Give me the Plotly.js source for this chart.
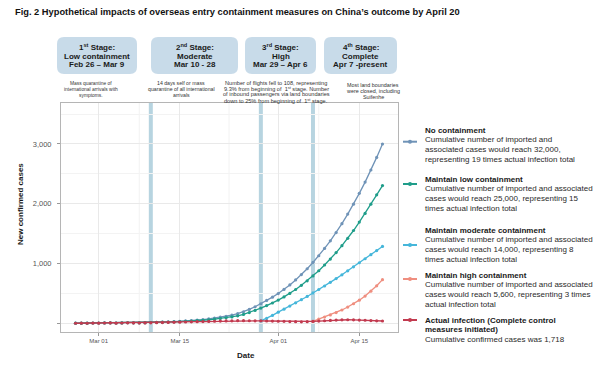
<!DOCTYPE html>
<html><head><meta charset="utf-8">
<script src="https://cdn.plot.ly/plotly-3.0.1.min.js"></script>
<style>html,body{margin:0;padding:0;background:#fff}#chart{width:600px;height:368px}</style>
</head><body><div id="chart"></div>
<script>
// ---------- data ----------
const startDate = [2020, 1, 26]; // Feb 26, 2020 (daily points through Apr 19)
const noContainment = [5,6,5,8,8,10,11,8,10,13,12,12,14,17,
  20,24,28,33,38,44,
  50,58,66,78,92,106,120,140,165,195,235,280,
  330,385,440,500,570,645,728,818,915,1020,
  1132,1255,1382,1520,1669,1828,1995,2175,2363,2565,2776,3000];
const lowContainment = [5,6,5,8,8,10,11,8,10,13,12,12,14,17,
  19,22,25,29,33,37,
  42,48,54,63,73,84,95,110,128,152,183,218,
  258,300,343,392,445,503,568,638,714,795,
  882,978,1077,1185,1300,1423,1554,1695,1840,1995,2150,2305];
const moderateContainment = [null,null,null,null,null,null,null,null,null,null,null,null,null,null,
  null,null,null,null,null,null,
  null,null,null,null,null,null,null,null,null,null,null,null,
  44,85,135,189,240,292,345,398,452,511,
  568,627,688,750,814,880,948,1015,1082,1150,1218,1288];
const highContainment = [null,null,null,null,null,null,null,null,null,null,null,null,null,null,
  null,null,null,null,null,null,
  null,null,null,null,null,null,null,null,null,null,null,null,
  null,null,null,null,null,null,null,null,null,
  36,75,108,143,182,226,275,330,390,458,540,630,733];
const actualInfection = [4,5,4,7,6,8,9,6,8,11,9,8,10,12,
  14,16,18,20,22,25,28,30,33,35,38,
  40,43,45,47,48,46,45,
  44,42,40,38,36,33,30,28,30,
  34,40,46,52,57,61,63,62,58,54,49,45,42];

const seriesNames = ['No containment','Maintain low containment','Maintain moderate containment','Maintain high containment','Actual infection'];
const seriesColors = ['#6f93b7','#1f9d8a','#45b6da','#ef8e7f','#c23a4f'];

const stageLines = ['2020-03-10','2020-03-29','2020-04-07'];
const xTickVals = ['2020-03-01','2020-03-15','2020-04-01','2020-04-15'];
const xTickText = ['Mar 01','Mar 15','Apr 01','Apr 15'];
const xMinorVals = ['2020-03-08','2020-03-23 12:00','2020-04-08'];
const yTickVals = [0,1000,2000,3000];
const yTickText = ['','1,000','2,000','3,000'];

const stageTitles = ['1<sup>st</sup> Stage:','2<sup>nd</sup> Stage:','3<sup>rd</sup> Stage:','4<sup>th</sup> Stage:'];
const stageNames = ['Low containment','Moderate','High','Complete'];
const stagePeriods = ['Feb 26 – Mar 9','Mar 10 - 28','Mar 29 – Apr 6','Apr 7 -present'];
const stageNotes = [
  ['Mass quarantine of','international arrivals with','symptoms.'],
  ['14 days self or mass','quarantine of all international','arrivals'],
  ['Number of flights fell to 108, representing','9.3% from beginning of  1<sup>st</sup> stage. Number','of inbound passengers via land boundaries','down to 25% from beginning of  1<sup>st</sup> stage.'],
  ['Most land boundaries','were closed, including','Suifenhe']
];
const legendTitles = [['No containment'],['Maintain low containment'],['Maintain moderate containment'],['Maintain high containment'],['Actual infection (Complete control','measures initiated)']];
const legendNotes = [
  ['Cumulative number of imported and','associated cases would reach 32,000,','representing 19 times actual infection total'],
  ['Cumulative number of imported and associated','cases would reach 25,000, representing 15','times actual infection total'],
  ['Cumulative number of imported and associated','cases would reach 14,000, representing 8','times actual infection total'],
  ['Cumulative number of imported and associated','cases would reach 5,600, representing 3 times','actual infection total'],
  ['Cumulative confirmed cases was 1,718']
];

// ---------- layout helpers ----------
const L=61,R=398,T=103,B=332;
const W=R-L,H=B-T;
const px=x=>(x-L)/W, py=y=>(B-y)/H;
const FONT='Liberation Sans, Arial, Helvetica, sans-serif';

const dates = noContainment.map((_,i)=>new Date(Date.UTC(startDate[0],startDate[1],startDate[2]+i)).toISOString().slice(0,10));

const annotations=[];
function txt(x,y,text,size,bold,xanchor,color,extra){
  annotations.push(Object.assign({xref:'paper',yref:'paper',x:px(x),y:py(y),
    text: bold?'<b>'+text+'</b>':text, showarrow:false, xanchor:xanchor||'center', yanchor:'middle',
    borderpad:0, font:{family:FONT,size:size,color:color||'#1a1a1a'}}, extra||{}));
}
const shapes=[];
function roundedRect(x0,y0,x1,y1,r){
  const p=(x,y)=>px(x)+','+py(y);
  return 'M'+p(x0+r,y0)+' L'+p(x1-r,y0)+' Q'+p(x1,y0)+' '+p(x1,y0+r)+
    ' L'+p(x1,y1-r)+' Q'+p(x1,y1)+' '+p(x1-r,y1)+' L'+p(x0+r,y1)+
    ' Q'+p(x0,y1)+' '+p(x0,y1-r)+' L'+p(x0,y0+r)+' Q'+p(x0,y0)+' '+p(x0+r,y0)+' Z';
}

// title
txt(14,12,'Fig. 2 Hypothetical impacts of overseas entry containment measures on China’s outcome by April 20',9.3,true,'left','#111');

// stage boxes
const boxX=[[57,137],[151,238],[245,316],[324,397]];
const noteCenters=[90.5,181,276,373];
const noteTop=[84,83,82.7,85];
const noteSize=[4.9,5.2,5.6,5.4];
boxX.forEach((bx,i)=>{
  shapes.push({type:'path',xref:'paper',yref:'paper',path:roundedRect(bx[0],37,bx[1],74,7),
    fillcolor:'#c8dbe9',line:{width:0},layer:'below'});
  const cx=(bx[0]+bx[1])/2;
  txt(cx,47,stageTitles[i],8,true);
  txt(cx,56,stageNames[i],8,true);
  txt(cx,64.5,stagePeriods[i],8,true);
  stageNotes[i].forEach((ln,j)=>txt(noteCenters[i],noteTop[i]+j*5.8,ln,noteSize[i],false,'center','#333'));
});

// stage lines
stageLines.forEach(d=>shapes.push({type:'line',xref:'x',yref:'paper',x0:d,x1:d,y0:0,y1:1,
  line:{color:'rgba(170,205,218,0.85)',width:4},layer:'below'}));
xMinorVals.forEach(d=>shapes.push({type:'line',xref:'x',yref:'paper',x0:d,x1:d,y0:0,y1:1,
  line:{color:'#f2f2f2',width:1},layer:'below'}));

// legend (custom)
const legTitleY=[130,179,230,275,320];
const legSymY=[141.7,184,245,279,320];
legendTitles.forEach((tl,i)=>{
  let y=legTitleY[i];
  tl.forEach(t=>{txt(424,y,t,8,true,'left','#1a1a1a');y+=9.8;});
  legendNotes[i].forEach(t=>{txt(424,y,t,8,false,'left','#2a2a2a');y+=9.8;});
  shapes.push({type:'line',xref:'paper',yref:'paper',x0:px(403),x1:px(417),y0:py(legSymY[i]),y1:py(legSymY[i]),
    line:{color:seriesColors[i],width:2}});
  shapes.push({type:'circle',xref:'paper',yref:'paper',x0:px(408),x1:px(412),y0:py(legSymY[i]+2),y1:py(legSymY[i]-2),
    fillcolor:seriesColors[i],line:{width:0}});
});

// axis titles
txt(246,355,'Date',8,true);
txt(20,204,'New confirmed cases',8,true,'center','#1a1a1a',{textangle:-90});

// ---------- traces ----------
const allSeries=[noContainment,lowContainment,moderateContainment,highContainment,actualInfection];
const traces=allSeries.map((ys,i)=>({
  type:'scatter',mode:'lines+markers',x:dates,y:ys,name:seriesNames[i],
  line:{color:seriesColors[i],width:1.3},marker:{color:seriesColors[i],size:3.2},
  connectgaps:false,hoverinfo:'x+y'
}));

const layout={
  width:600,height:368,
  margin:{l:L,r:600-R,t:T,b:368-B,pad:0},
  paper_bgcolor:'#ffffff',plot_bgcolor:'#ffffff',
  showlegend:false,
  font:{family:FONT},
  xaxis:{type:'date',range:['2020-02-23 11:45','2020-04-21 16:20'],
    tickmode:'array',tickvals:xTickVals,ticktext:xTickText,
    tickfont:{size:6,color:'#555'},ticks:'outside',ticklen:3,tickcolor:'#999',
    showgrid:true,gridcolor:'#e9e9e9',gridwidth:1,
    showline:true,linecolor:'#b5b5b5',linewidth:1,mirror:true,zeroline:false},
  yaxis:{range:[-142,3685],tickmode:'array',tickvals:yTickVals,ticktext:yTickText,
    tickfont:{size:7.5,color:'#555'},ticks:'outside',ticklen:3,tickcolor:'#999',ticklabelstandoff:4,
    showgrid:true,gridcolor:'#e9e9e9',gridwidth:1,
    minor:{tickmode:'linear',tick0:0,dtick:500,showgrid:true,gridcolor:'#f3f3f3',ticks:''},
    showline:true,linecolor:'#b5b5b5',linewidth:1,mirror:true,zeroline:false},
  shapes:shapes,annotations:annotations
};
Plotly.newPlot('chart',traces,layout,{displayModeBar:false,staticPlot:true});
</script></body></html>
